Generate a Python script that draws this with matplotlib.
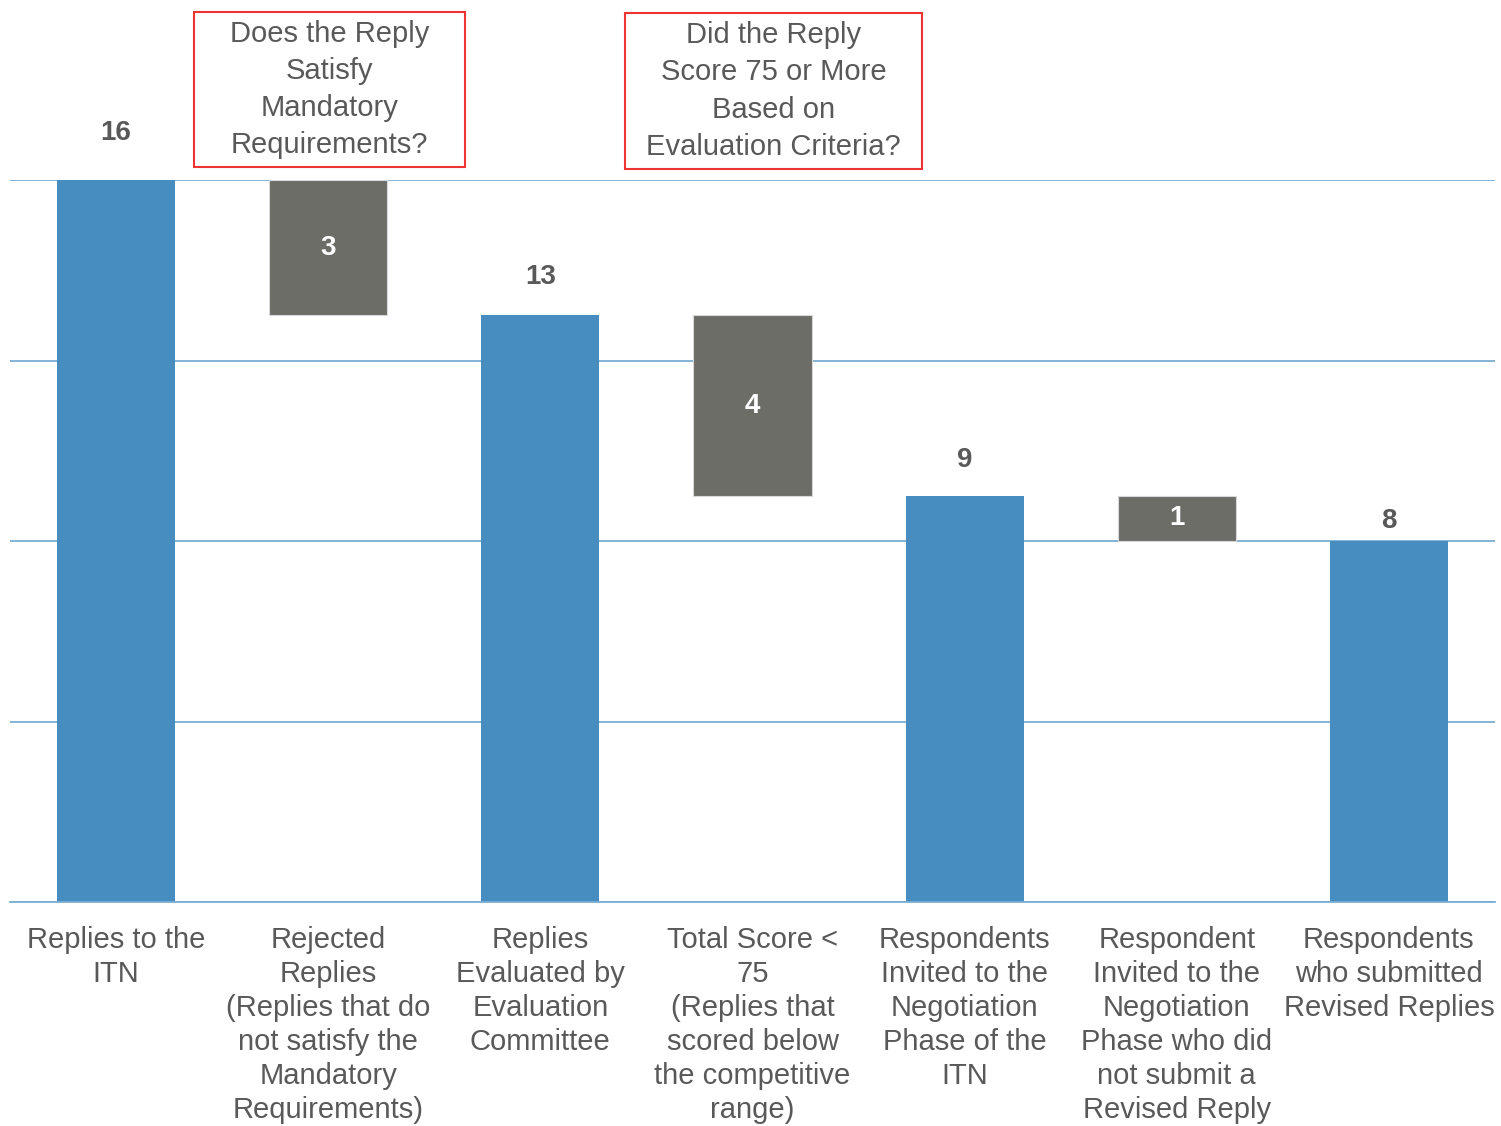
import matplotlib.pyplot as plt
from matplotlib.patches import Rectangle

# waterfall data
categories = ['Replies to the\nITN',
              'Rejected\nReplies\n(Replies that do\nnot satisfy the\nMandatory\nRequirements)',
              'Replies\nEvaluated by\nEvaluation\nCommittee',
              'Total Score <\n75\n(Replies that\nscored below\nthe competitive\nrange)',
              'Respondents\nInvited to the\nNegotiation\nPhase of the\nITN',
              'Respondent\nInvited to the\nNegotiation\nPhase who did\nnot submit a\nRevised Reply',
              'Respondents\nwho submitted\nRevised Replies']
values = [16, 3, 13, 4, 9, 1, 8]
is_total = [True, False, True, False, True, False, True]
grid_ticks = [0, 4, 8, 12, 16]

box_texts = ['Does the Reply\nSatisfy\nMandatory\nRequirements?',
             'Did the Reply\nScore 75 or More\nBased on\nEvaluation Criteria?']

blue = '#478DBF'
gray = '#6D6D68'
grid_col = '#7AAED3'
txt_col = '#595959'

plt.rcParams['font.family'] = ['Liberation Sans', 'DejaVu Sans']

W, H = 1501, 1126
fig = plt.figure(figsize=(W / 100, H / 100), dpi=100)
ax = fig.add_axes([10 / W, (H - 902) / H, 1485 / W, 722 / H])

# label gap above each total bar (pixels), like the original layout
label_gap = {0: 47, 2: 38, 4: 36, 6: 20}

level = 0
for i, v in enumerate(values):
    if is_total[i]:
        ax.bar(i, v, width=0.557, color=blue, zorder=2)
        ax.annotate(str(v), (i, v), xytext=(0, label_gap[i] * 0.72),
                    textcoords='offset points', ha='center', va='center',
                    fontsize=20, fontweight='bold', color=txt_col)
        level = v
    else:
        ax.bar(i, v, bottom=level - v, width=0.557, color=gray,
               edgecolor='#d8d8d8', linewidth=0.8, zorder=2)
        ax.text(i, level - v / 2, str(v), ha='center', va='center', fontsize=20,
                fontweight='bold', color='white', zorder=3)
        level = level - v

ax.set_xlim(-0.5, len(values) - 0.5)
ax.set_ylim(0, 16)
ax.set_yticks(grid_ticks)
ax.yaxis.grid(True, color=grid_col, linewidth=1.3, zorder=0)
ax.set_axisbelow(True)
ax.tick_params(left=False, bottom=False, labelleft=False)
for s in ['top', 'left', 'right']:
    ax.spines[s].set_visible(False)
ax.spines['bottom'].set_color(grid_col)
ax.spines['bottom'].set_linewidth(1.3)
ax.set_xticks(range(len(categories)))
ax.set_xticklabels(categories, fontsize=21, color=txt_col, va='top',
                   linespacing=1.27)
ax.tick_params(axis='x', pad=14)

# question boxes
boxes = [(194, 12, 465, 167), (625, 13, 922, 169)]
for (x0, y0, x1, y1), t in zip(boxes, box_texts):
    fig.patches.append(Rectangle((x0 / W, 1 - y1 / H), (x1 - x0) / W, (y1 - y0) / H,
                                 transform=fig.transFigure, fill=False,
                                 edgecolor='#EE3333', linewidth=1.5))
    fig.text((x0 + x1) / 2 / W, 1 - (y0 + y1) / 2 / H, t, ha='center', va='center',
             fontsize=21, color=txt_col, linespacing=1.41)

fig.savefig('out.png', dpi=100)
